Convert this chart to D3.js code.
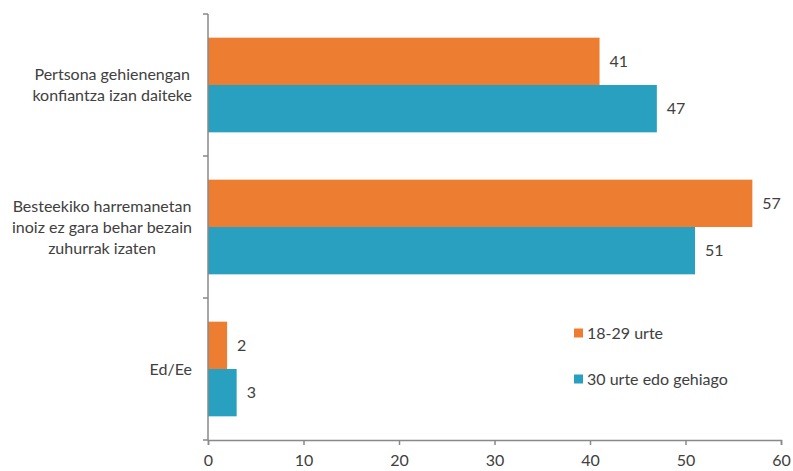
<!DOCTYPE html>
<html><head><meta charset="utf-8">
<script src="https://cdn.jsdelivr.net/npm/d3@7"></script>
<style>body{margin:0;background:#fff}svg{display:block}text{font-family:Lato,"Open Sans",sans-serif;fill:#404040}</style>
</head><body><svg id="c" width="793" height="471"></svg>
<script>
const categories = [
  ["Pertsona gehienengan","konfiantza izan daiteke"],
  ["Besteekiko harremanetan","inoiz ez gara behar bezain","zuhurrak izaten"],
  ["Ed/Ee"]
];
const seriesNames = ["18-29 urte","30 urte edo gehiago"];
const young = [41,57,2];
const older = [47,51,3];
const colors = ["#ED7D31","#29A0BF"];
const xTicks = [0,10,20,30,40,50,60];

const svg = d3.select("#c");
const x = d3.scaleLinear().domain([0,60]).range([208,781]);
const y = d3.scaleBand().domain(d3.range(categories.length)).range([14,440]).paddingInner(0).paddingOuter(0);
const sub = d3.scaleBand().domain([0,1]).range([0,y.bandwidth()]).paddingInner(0).paddingOuter(0.5);
const series=[young,older];

series.forEach((vals,si)=>{
  svg.append("g").selectAll("rect").data(vals).join("rect")
    .attr("x",x(0)).attr("y",(d,i)=>y(i)+sub(si))
    .attr("width",d=>x(d)-x(0)).attr("height",sub.bandwidth())
    .attr("fill",colors[si]);
  svg.append("g").selectAll("text").data(vals).join("text")
    .attr("x",d=>x(d)+10).attr("y",(d,i)=>y(i)+sub(si)+sub.bandwidth()/2)
    .attr("dy","0.35em").attr("font-size",16).text(d=>d);
});

const ax="#898989";
svg.append("line").attr("x1",x(0)).attr("x2",x(0)).attr("y1",14).attr("y2",440).attr("stroke",ax).attr("stroke-width",1.5);
const bounds=[0,1,2].map(i=>y(i)).concat([440]);
svg.append("g").selectAll("line").data(bounds).join("line")
  .attr("x1",x(0)-5).attr("x2",x(0)).attr("y1",d=>d).attr("y2",d=>d).attr("stroke",ax).attr("stroke-width",1.5);

categories.forEach((lines,i)=>{
  const cy=y(i)+y.bandwidth()/2;
  const lh=21;
  const t=svg.append("text").attr("text-anchor","middle").attr("font-size",16);
  const spans=lines.map((l,j)=>t.append("tspan").attr("y",cy+(j-(lines.length-1)/2)*lh).attr("dy","0.35em").text(l));
  const maxw=d3.max(spans,s=>s.node().getComputedTextLength());
  spans.forEach(s=>s.attr("x",192-maxw/2));
});

const xa=svg.append("g").attr("transform","translate(0,440)")
  .call(d3.axisBottom(x).tickValues(xTicks).tickSize(5).tickPadding(10).tickFormat(d3.format("d")));
xa.select(".domain").attr("stroke",ax).attr("stroke-width",1.5);
xa.selectAll(".tick line").attr("stroke",ax).attr("stroke-width",1.5);
xa.selectAll(".tick text").attr("font-size",16).attr("fill","#404040").style("font-family","Lato,'Open Sans',sans-serif");

const lg=svg.append("g");
seriesNames.forEach((n,i)=>{
  const yy=333+i*46;
  lg.append("rect").attr("x",574).attr("y",yy-4.5).attr("width",9).attr("height",9).attr("fill",colors[i]);
  lg.append("text").attr("x",587).attr("y",yy).attr("dy","0.35em").attr("font-size",16).text(n);
});
</script></body></html>
